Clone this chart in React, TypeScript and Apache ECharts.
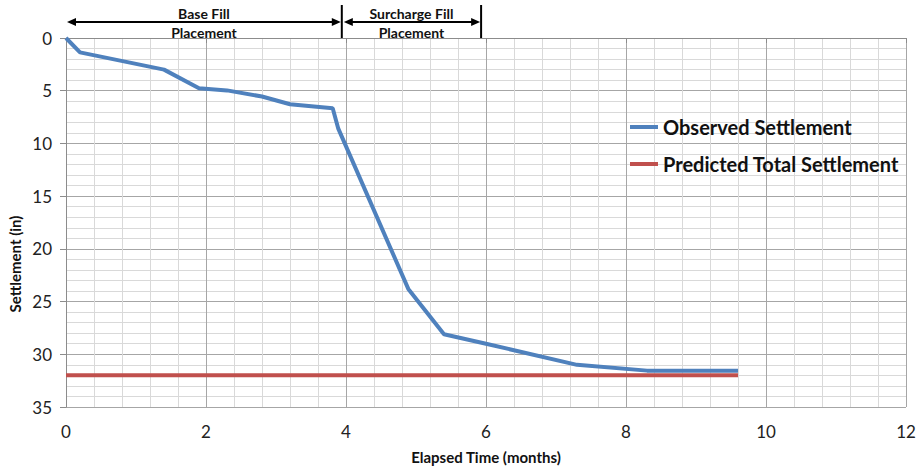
import React, { useEffect, useRef } from "react";
import * as echarts from "echarts";

const observedTime = [0, 0.2, 1.4, 1.9, 2.3, 2.8, 3.2, 3.81, 3.89, 4.89, 5.4, 6.0, 7.3, 8.3, 9.6];
const observedSettlement = [0, 1.36, 3.0, 4.77, 4.97, 5.55, 6.28, 6.67, 8.6, 23.8, 28.1, 29.0, 31.0, 31.55, 31.55];
const predictedTime = [0, 9.6];
const predictedSettlement = [32, 32];
const phaseBounds = [0, 3.94, 5.93];
const phaseLabels = [["Base Fill", "Placement"], ["Surcharge Fill", "Placement"]];
const seriesNames = ["Observed Settlement", "Predicted Total Settlement"];
const yAxisTitle = "Settlement (in)";
const xAxisTitle = "Elapsed Time (months)";

const FONT = "Lato, 'Open Sans', sans-serif";

export default function App() {
  const ref = useRef<HTMLDivElement>(null);
  useEffect(() => {
    if (!ref.current) return;
    const chart = echarts.init(ref.current, null, { renderer: "svg" });
    const gridTop = 38;
    chart.setOption({
      animation: false,
      backgroundColor: "#ffffff",
      textStyle: { fontFamily: FONT },
      grid: { left: 66, right: 13, top: gridTop, bottom: 61, containLabel: false, outerBoundsMode: "none" },
      legend: {
        orient: "vertical",
        left: 625,
        top: 112,
        itemGap: 17,
        itemWidth: 28,
        itemHeight: 4,
        icon: "rect",
        data: seriesNames,
        textStyle: { fontFamily: FONT, fontWeight: "bold", fontSize: 20, color: "#111" },
      },
      xAxis: {
        type: "value",
        min: 0,
        max: 12,
        interval: 2,
        name: xAxisTitle,
        nameLocation: "middle",
        nameGap: 42,
        nameTextStyle: { fontFamily: FONT, fontWeight: "bold", fontSize: 15, color: "#111" },
        axisLine: { show: true, lineStyle: { color: "#8c8c8c", width: 1 } },
        axisTick: { show: true, length: 5, lineStyle: { color: "#8c8c8c" } },
        axisLabel: { fontSize: 17, color: "#222", margin: 16, fontFamily: FONT },
        splitLine: { show: true, lineStyle: { color: "#a6a6a6", width: 1 } },
        minorTick: { show: false, splitNumber: 5 },
        minorSplitLine: { show: true, lineStyle: { color: "#d9d9d9", width: 1 } },
      },
      yAxis: {
        type: "value",
        inverse: true,
        min: 0,
        max: 35,
        interval: 5,
        axisLine: { show: true, lineStyle: { color: "#8c8c8c", width: 1 } },
        axisTick: { show: true, length: 6, lineStyle: { color: "#8c8c8c" } },
        axisLabel: { fontSize: 17, color: "#222", margin: 14, fontFamily: FONT },
        splitLine: { show: true, lineStyle: { color: "#a6a6a6", width: 1 } },
        minorTick: { show: false, splitNumber: 5 },
        minorSplitLine: { show: true, lineStyle: { color: "#d9d9d9", width: 1 } },
      },
      series: [
        {
          name: seriesNames[0],
          type: "line",
          data: observedTime.map((t, i) => [t, observedSettlement[i]]),
          showSymbol: false,
          symbol: "none",
          color: "#4f81bd",
          lineStyle: { color: "#4f81bd", width: 4 },
          z: 3,
        },
        {
          name: seriesNames[1],
          type: "line",
          data: predictedTime.map((t, i) => [t, predictedSettlement[i]]),
          showSymbol: false,
          symbol: "none",
          color: "#c0504d",
          lineStyle: { color: "#c0504d", width: 4 },
          z: 2,
        },
      ],
    });

    // Phase annotations above the plot
    const px = phaseBounds.map((b) => chart.convertToPixel({ gridIndex: 0 }, [b, 0])[0]);
    const arrowY = 22;
    const barTop = 5;
    const elements: any[] = [];
    for (let i = 0; i < phaseLabels.length; i++) {
      const a = px[i] + (i === 0 ? 1 : 2);
      const b = px[i + 1] - 1;
      elements.push({
        type: "line",
        shape: { x1: a + 6, y1: arrowY, x2: b - 6, y2: arrowY },
        style: { stroke: "#000", lineWidth: 2 },
      });
      elements.push({
        type: "polygon",
        shape: { points: [[a, arrowY], [a + 9, arrowY - 4], [a + 9, arrowY + 4]] },
        style: { fill: "#000" },
      });
      elements.push({
        type: "polygon",
        shape: { points: [[b, arrowY], [b - 9, arrowY - 4], [b - 9, arrowY + 4]] },
        style: { fill: "#000" },
      });
      const cx = (px[i] + px[i + 1]) / 2;
      for (let j = 0; j < 2; j++) {
        elements.push({
          type: "text",
          x: cx,
          y: j === 0 ? 13 : 32,
          style: {
            text: phaseLabels[i][j],
            fontFamily: FONT,
            fontWeight: "bold",
            fontSize: 14,
            fill: "#111",
            align: "center",
            verticalAlign: "middle",
          },
        });
      }
    }
    for (let i = 1; i < px.length; i++) {
      elements.push({
        type: "line",
        shape: { x1: px[i], y1: barTop, x2: px[i], y2: gridTop },
        style: { stroke: "#000", lineWidth: 2 },
      });
    }
    elements.push({
      type: "text",
      x: 15,
      y: 264,
      rotation: Math.PI / 2,
      style: {
        text: yAxisTitle,
        fontFamily: FONT,
        fontWeight: "bold",
        fontSize: 15,
        fill: "#111",
        align: "center",
        verticalAlign: "middle",
      },
    });
    chart.setOption({ graphic: { elements } });

    return () => chart.dispose();
  }, []);
  return (
    <div
      ref={ref}
      style={{ position: "fixed", left: 0, top: 0, width: 919, height: 468 }}
    />
  );
}
